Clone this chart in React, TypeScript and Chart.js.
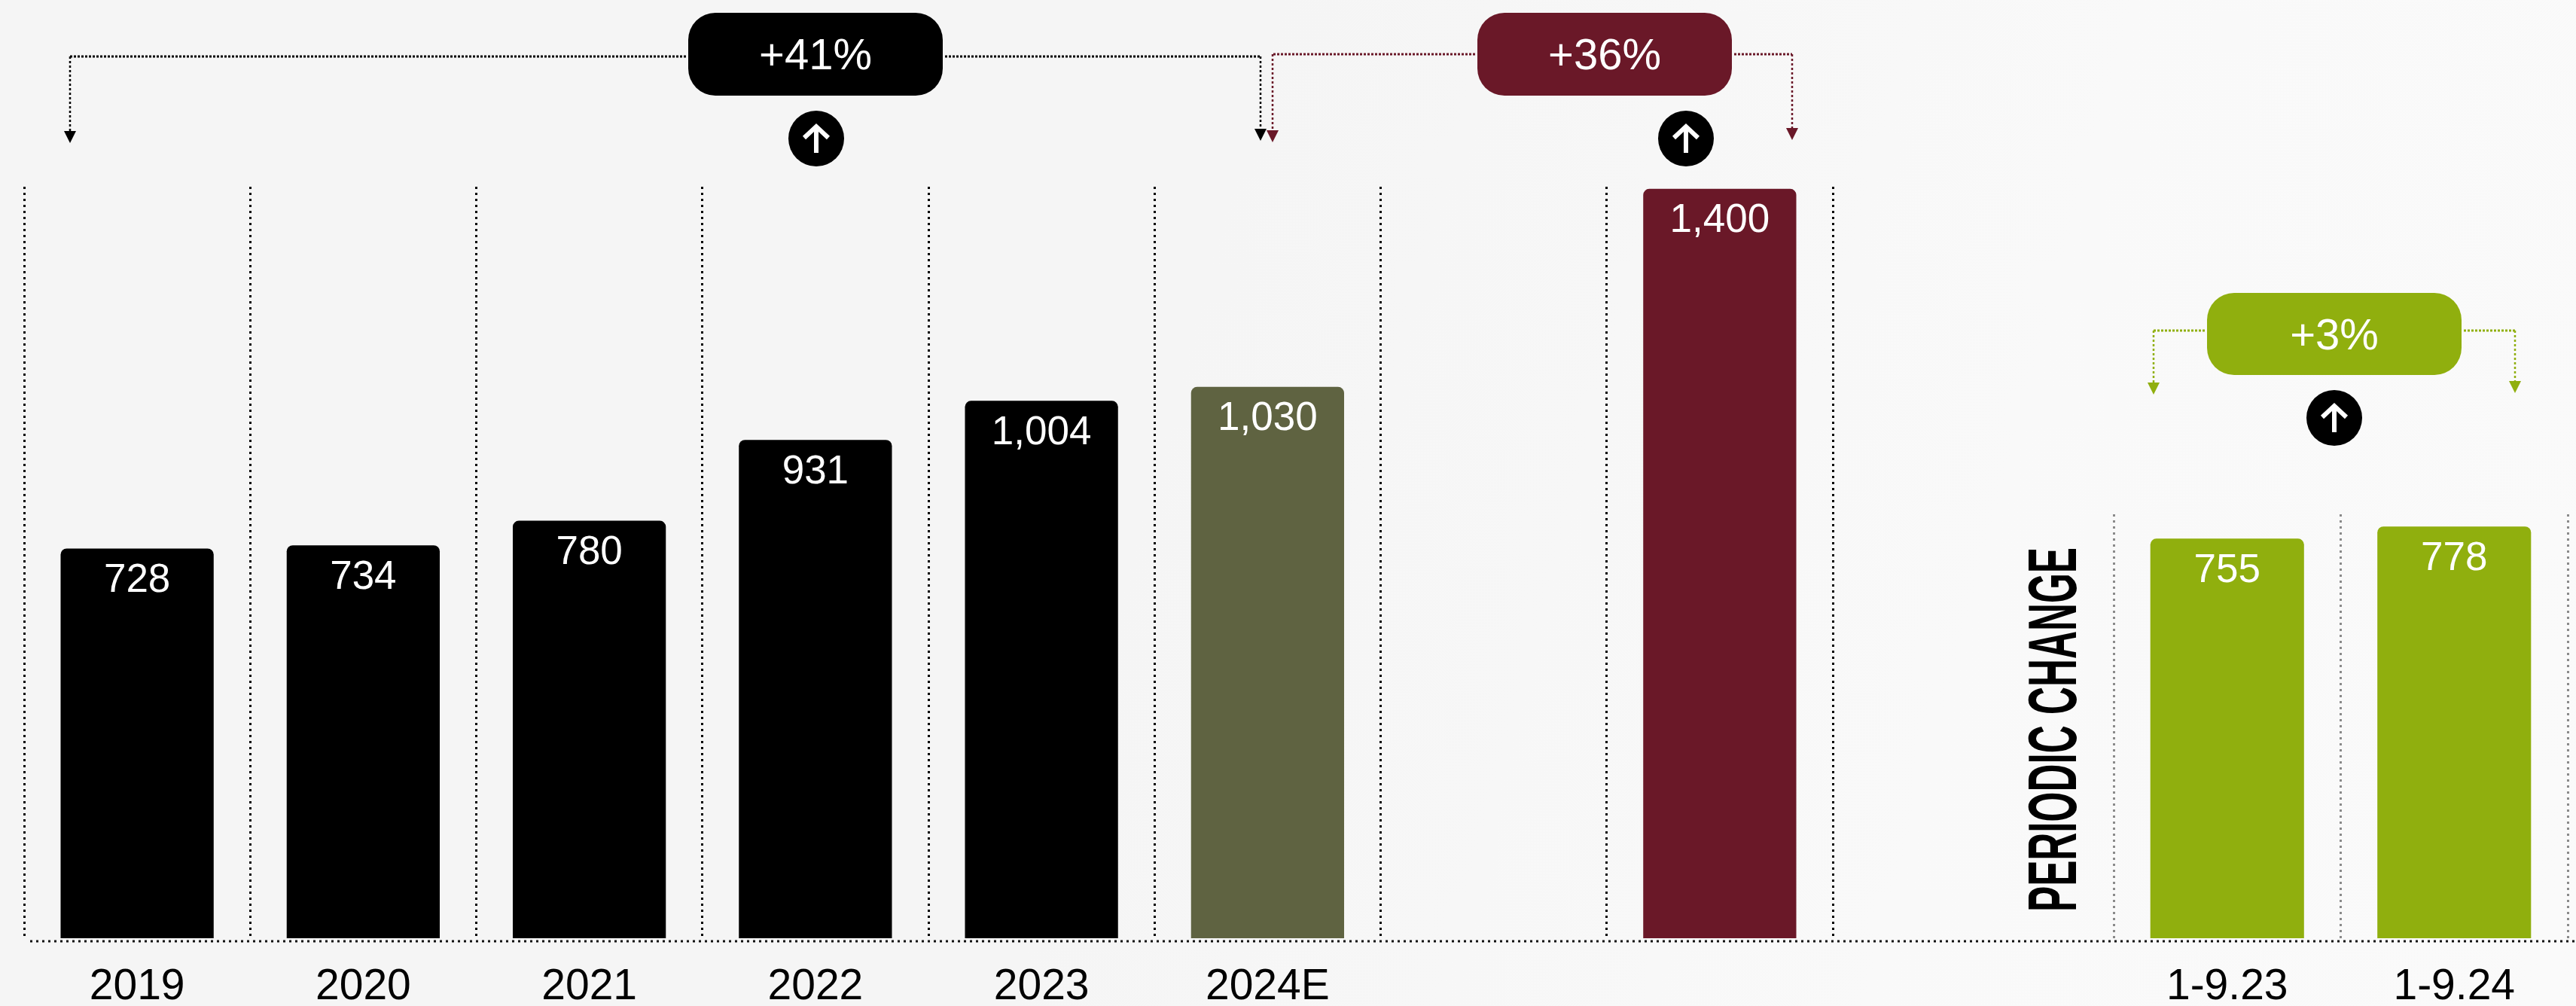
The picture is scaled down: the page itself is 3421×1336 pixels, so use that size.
import { useEffect, useRef } from "react";
import { Chart, registerables } from "chart.js";

Chart.register(...registerables);

// Annual panel
const annualCategories = ["2019", "2020", "2021", "2022", "2023", "2024E", "", ""];
const annualValues = [728, 734, 780, 931, 1004, 1030, null, 1400];
const annualColours = ["#000000", "#000000", "#000000", "#000000", "#000000", "#5F6341", "#000000", "#6A1828"];

// Nine-month panel
const periodCategories = ["1-9.23", "1-9.24"];
const periodValues = [755, 778];
const periodColours = ["#90AF0E", "#90AF0E"];

const changeLabels = ["+41%", "+36%", "+3%"];
const sideTitle = "PERIODIC CHANGE";

const WIDTH = 3421;
const HEIGHT = 1336;
const SPLIT = 2624;
const AREA_BOTTOM = 1246;
const FONT = '"Liberation Sans", Arial, sans-serif';

type Drop = { x: number; tip: number };
type Bracket = {
  text: string;
  colour: string;
  pill: [number, number, number, number];
  lineY: number;
  textY: number;
  left: Drop;
  right: Drop;
  badge: [number, number];
};

const annualBrackets: Bracket[] = [
  {
    text: changeLabels[0],
    colour: "#000000",
    pill: [914, 17, 1252, 127],
    lineY: 75,
    textY: 76,
    left: { x: 93, tip: 190 },
    right: { x: 1674, tip: 187 },
    badge: [1084, 184],
  },
  {
    text: changeLabels[1],
    colour: "#6A1828",
    pill: [1962, 17, 2300, 127],
    lineY: 72,
    textY: 76,
    left: { x: 1690, tip: 189 },
    right: { x: 2380, tip: 186 },
    badge: [2239, 184],
  },
];

const periodBrackets: Bracket[] = [
  {
    text: changeLabels[2],
    colour: "#90AF0E",
    pill: [2931, 389, 3269, 498],
    lineY: 439,
    textY: 448,
    left: { x: 2860, tip: 524 },
    right: { x: 3340, tip: 522 },
    badge: [3100, 555],
  },
];

function drawDrop(ctx: CanvasRenderingContext2D, from: number, drop: Drop, lineY: number, colour: string) {
  ctx.strokeStyle = colour;
  ctx.lineWidth = 3;
  ctx.setLineDash([3, 2]);
  ctx.beginPath();
  ctx.moveTo(from, lineY);
  ctx.lineTo(drop.x, lineY);
  ctx.stroke();
  ctx.lineWidth = 2.5;
  ctx.setLineDash([3, 3]);
  ctx.beginPath();
  ctx.moveTo(drop.x, lineY);
  ctx.lineTo(drop.x, drop.tip - 14);
  ctx.stroke();
  ctx.setLineDash([]);
  ctx.fillStyle = colour;
  ctx.beginPath();
  ctx.moveTo(drop.x - 8, drop.tip - 16);
  ctx.lineTo(drop.x + 8, drop.tip - 16);
  ctx.lineTo(drop.x, drop.tip);
  ctx.closePath();
  ctx.fill();
}

function drawBadge(ctx: CanvasRenderingContext2D, cx: number, cy: number) {
  ctx.fillStyle = "#000000";
  ctx.beginPath();
  ctx.arc(cx, cy, 37, 0, Math.PI * 2);
  ctx.fill();
  ctx.strokeStyle = "#FFFFFF";
  ctx.lineWidth = 6;
  ctx.lineCap = "butt";
  ctx.beginPath();
  ctx.moveTo(cx, cy + 19);
  ctx.lineTo(cx, cy - 16);
  ctx.stroke();
  ctx.lineJoin = "miter";
  ctx.beginPath();
  ctx.moveTo(cx - 16, cy - 1);
  ctx.lineTo(cx, cy - 16);
  ctx.lineTo(cx + 16, cy - 1);
  ctx.stroke();
}

function drawBracket(ctx: CanvasRenderingContext2D, b: Bracket) {
  const [x0, y0, x1, y1] = b.pill;
  drawDrop(ctx, x0 - 3, b.left, b.lineY, b.colour);
  drawDrop(ctx, x1 + 3, b.right, b.lineY, b.colour);
  ctx.fillStyle = b.colour;
  ctx.beginPath();
  ctx.roundRect(x0, y0, x1 - x0, y1 - y0, 36);
  ctx.fill();
  ctx.fillStyle = "#FFFFFF";
  ctx.font = `58px ${FONT}`;
  ctx.textAlign = "center";
  ctx.textBaseline = "middle";
  ctx.fillText(b.text, (x0 + x1) / 2, b.textY);
  drawBadge(ctx, b.badge[0], b.badge[1]);
}

// Draws the shared baseline, the value labels and the change brackets over the bars.
function overlay(originX: number, brackets: Bracket[], startX: number, title?: string) {
  return {
    id: "overlay",
    afterDraw(chart: Chart) {
      const ctx = chart.ctx;
      ctx.save();

      ctx.fillStyle = "#FFFFFF";
      ctx.font = `53px ${FONT}`;
      ctx.textAlign = "center";
      ctx.textBaseline = "middle";
      const values = chart.data.datasets[0].data as (number | null)[];
      chart.getDatasetMeta(0).data.forEach((bar: any, i: number) => {
        const v = values[i];
        if (v == null) return;
        ctx.fillText(v.toLocaleString("en-US"), bar.x, bar.y + 43);
      });

      ctx.translate(-originX, 0);

      ctx.strokeStyle = "#111111";
      ctx.lineWidth = 3;
      ctx.setLineDash([3, 5]);
      ctx.beginPath();
      ctx.moveTo(startX, 1250);
      ctx.lineTo(originX + chart.width, 1250);
      ctx.stroke();
      ctx.setLineDash([]);

      brackets.forEach((b) => drawBracket(ctx, b));

      if (title) {
        ctx.save();
        ctx.translate(2757, 1211);
        ctx.rotate(-Math.PI / 2);
        ctx.fillStyle = "#000000";
        ctx.font = `bold 90px "Liberation Sans Narrow", ${FONT}`;
        ctx.textAlign = "left";
        ctx.textBaseline = "alphabetic";
        ctx.fillText(title, 0, 0, 484);
        ctx.restore();
      }
      ctx.restore();
    },
  };
}

function barChart(
  canvas: HTMLCanvasElement,
  labels: string[],
  values: (number | null)[],
  colours: string[],
  yMax: number,
  padding: { left: number; right: number; top: number },
  gridColour: string,
  plugin: any,
) {
  return new Chart(canvas, {
    type: "bar",
    data: {
      labels,
      datasets: [
        {
          data: values,
          backgroundColor: colours,
          borderRadius: { topLeft: 8, topRight: 8, bottomLeft: 0, bottomRight: 0 },
          borderSkipped: false,
          barPercentage: 0.677,
          categoryPercentage: 1,
        },
      ],
    },
    options: {
      responsive: false,
      animation: false,
      layout: { padding: { ...padding, bottom: 0 } },
      plugins: { legend: { display: false }, tooltip: { enabled: false } },
      scales: {
        x: {
          offset: true,
          afterFit(scale: any) {
            scale.height = HEIGHT - AREA_BOTTOM;
          },
          border: { display: false, dash: [3, 5] },
          grid: {
            offset: true,
            drawTicks: false,
            color: gridColour,
            lineWidth: 3,
          },
          ticks: {
            padding: 31,
            autoSkip: false,
            maxRotation: 0,
            color: "#000000",
            font: { family: "Liberation Sans", size: 57 },
          },
        },
        y: { display: false, min: 0, max: yMax },
      },
    },
    plugins: [plugin],
  } as any);
}

export default function App() {
  const leftRef = useRef<HTMLCanvasElement>(null);
  const rightRef = useRef<HTMLCanvasElement>(null);

  useEffect(() => {
    const left = barChart(
      leftRef.current!,
      annualCategories,
      annualValues,
      annualColours,
      1404,
      { left: 32, right: SPLIT - 2434, top: 248 },
      "#000000",
      overlay(0, annualBrackets, 40),
    );
    const right = barChart(
      rightRef.current!,
      periodCategories,
      periodValues,
      periodColours,
      801,
      { left: 2807 - SPLIT, right: WIDTH - 3410, top: 683 },
      "#8A8A8A",
      overlay(SPLIT, periodBrackets, SPLIT, sideTitle),
    );
    return () => {
      left.destroy();
      right.destroy();
    };
  }, []);

  return (
    <div
      style={{
        position: "absolute",
        left: 0,
        top: 0,
        width: WIDTH,
        height: HEIGHT,
        overflow: "hidden",
        background: "linear-gradient(105deg,#F5F5F5 0%,#F5F5F5 45%,#F9F9F9 75%,#FAFAFA 100%)",
      }}
    >
      <canvas
        ref={leftRef}
        width={SPLIT}
        height={HEIGHT}
        style={{ position: "absolute", left: 0, top: 0, width: SPLIT, height: HEIGHT }}
      />
      <canvas
        ref={rightRef}
        width={WIDTH - SPLIT}
        height={HEIGHT}
        style={{ position: "absolute", left: SPLIT, top: 0, width: WIDTH - SPLIT, height: HEIGHT }}
      />
    </div>
  );
}
